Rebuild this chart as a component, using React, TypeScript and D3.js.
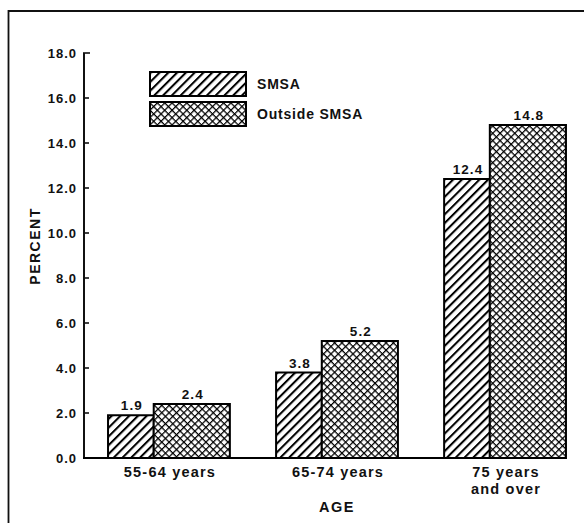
import React from 'react';
import * as d3 from 'd3';

// values (percent)
const ageGroups = ['55-64 years', '65-74 years', '75 years\nand over'];
const smsaValues = [1.9, 3.8, 12.4];
const outsideValues = [2.4, 5.2, 14.8];
const seriesNames = ['SMSA', 'Outside SMSA'];
const yTicks = [0, 2, 4, 6, 8, 10, 12, 14, 16, 18];

const W = 584;
const H = 523;
const FONT = '"Liberation Sans", Arial, sans-serif';

export default function App() {
  const y = d3.scaleLinear().domain([0, 18]).range([458, 53]);
  const x = d3.scaleBand().domain(ageGroups).range([84, 590]).paddingInner(0.275).paddingOuter(0.143);
  const bw = x.bandwidth();
  const smsaW = bw * 0.375;
  const lastEnd = (x(ageGroups[ageGroups.length - 1]) || 0) + bw;

  const lbl = { fontFamily: FONT, fontWeight: 700, fill: '#111' } as const;

  return (
    <div style={{ position: 'absolute', left: 0, top: 0 }}>
      <svg width={W} height={H} style={{ display: 'block', background: '#fff' }}>
        <defs>
          <pattern id="diag" patternUnits="userSpaceOnUse" width="6.2" height="10" patternTransform="rotate(45)">
            <rect width="6.2" height="10" fill="#fff" />
            <line x1="1" y1="0" x2="1" y2="10" stroke="#000" strokeWidth="2.1" />
          </pattern>
          <pattern id="cross" patternUnits="userSpaceOnUse" width="5.2" height="5.2" patternTransform="rotate(45)">
            <rect width="5.2" height="5.2" fill="#fff" />
            <line x1="0.6" y1="0" x2="0.6" y2="5.2" stroke="#000" strokeWidth="1.3" />
            <line x1="0" y1="0.6" x2="5.2" y2="0.6" stroke="#000" strokeWidth="1.3" />
          </pattern>
        </defs>

        {/* frame */}
        <path d={`M8.5,${H} V11 H${W}`} fill="none" stroke="#111" strokeWidth={1.8} />

        {/* y axis */}
        <line x1={84} x2={84} y1={y(18)} y2={y(0)} stroke="#111" strokeWidth={2} />
        {yTicks.map((t) => (
          <g key={t}>
            {t > 0 && <line x1={83} x2={t === 18 ? 90 : 89} y1={y(t)} y2={y(t)} stroke="#111" strokeWidth={1.6} />}
            <text x={77} y={y(t)} dy="0.36em" textAnchor="end" fontSize={13} letterSpacing={1} style={lbl}>
              {t.toFixed(1)}
            </text>
          </g>
        ))}
        <text transform="translate(40,246) rotate(-90)" textAnchor="middle" fontSize={14} letterSpacing={1.5} style={lbl}>
          PERCENT
        </text>

        {/* bars */}
        {ageGroups.map((g, i) => {
          const x0 = x(g) || 0;
          const bars = [
            { v: smsaValues[i], x: x0, w: smsaW, fill: 'url(#diag)' },
            { v: outsideValues[i], x: x0 + smsaW, w: bw - smsaW, fill: 'url(#cross)' },
          ];
          const lines = g.split('\n');
          return (
            <g key={g}>
              {bars.map((b, j) => (
                <g key={j}>
                  <rect x={b.x} y={y(b.v)} width={b.w} height={y(0) - y(b.v)} fill={b.fill} stroke="#000" strokeWidth={2} />
                  <text x={b.x + b.w / 2 + 1} y={y(b.v) - 5} textAnchor="middle" fontSize={13.5} letterSpacing={1.1} style={lbl}>
                    {b.v.toFixed(1)}
                  </text>
                </g>
              ))}
              {lines.map((l, k) => (
                <text key={k} x={x0 + bw / 2 + 1} y={477 + k * 17} textAnchor="middle" fontSize={14.5} letterSpacing={1.2} style={lbl}>
                  {l}
                </text>
              ))}
            </g>
          );
        })}

        {/* baseline */}
        <line x1={83} x2={lastEnd} y1={y(0)} y2={y(0)} stroke="#000" strokeWidth={2.2} />

        <text x={337} y={512} textAnchor="middle" fontSize={14.5} letterSpacing={1.6} style={lbl}>
          AGE
        </text>

        {/* legend */}
        {seriesNames.map((s, i) => (
          <g key={s} transform={`translate(150,${72 + i * 30})`}>
            <rect x={0} y={0} width={96} height={24} fill={i === 0 ? 'url(#diag)' : 'url(#cross)'} stroke="#000" strokeWidth={2} />
            <text x={107} y={17} fontSize={14} letterSpacing={0.8} style={lbl}>
              {s}
            </text>
          </g>
        ))}
      </svg>
    </div>
  );
}
